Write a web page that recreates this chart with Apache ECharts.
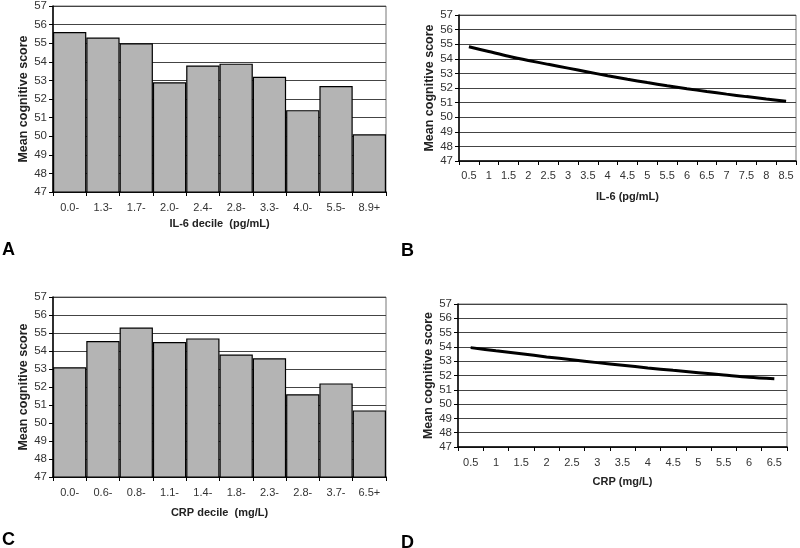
<!DOCTYPE html>
<html>
<head>
<meta charset="utf-8">
<script src="https://cdn.jsdelivr.net/npm/echarts@6/dist/echarts.min.js"></script>
<style>html,body{margin:0;padding:0;background:#fff;}#c{width:800px;height:548px;}</style>
</head>
<body>
<div id="c"></div>
<script>
var il6Deciles = ['0.0-','1.3-','1.7-','2.0-','2.4-','2.8-','3.3-','4.0-','5.5-','8.9+'];
var il6DecileScores = [55.6, 55.3, 55.0, 52.9, 53.8, 53.9, 53.2, 51.4, 52.7, 50.1];
var il6Levels = ['0.5','1','1.5','2','2.5','3','3.5','4','4.5','5','5.5','6','6.5','7','7.5','8','8.5'];
var il6Curve = [54.82, 54.5, 54.18, 53.89, 53.62, 53.36, 53.1, 52.84, 52.6, 52.37, 52.15, 51.95, 51.76, 51.58, 51.41, 51.25, 51.1];
var crpDeciles = ['0.0-','0.6-','0.8-','1.1-','1.4-','1.8-','2.3-','2.8-','3.7-','6.5+'];
var crpDecileScores = [53.1, 54.55, 55.3, 54.5, 54.7, 53.8, 53.6, 51.6, 52.2, 50.7];
var crpLevels = ['0.5','1','1.5','2','2.5','3','3.5','4','4.5','5','5.5','6','6.5'];
var crpCurve = [53.95, 53.73, 53.52, 53.3, 53.1, 52.9, 52.72, 52.53, 52.36, 52.2, 52.04, 51.88, 51.78];
var yMin = 47, yMax = 57;
var yName = 'Mean cognitive score';

var FONT = '"Liberation Sans", Arial, sans-serif';
var grids = [
  {left: 53, top: 6, width: 333, height: 186},
  {left: 459, top: 15, width: 337, height: 146},
  {left: 53, top: 297, width: 333, height: 180},
  {left: 458, top: 304, width: 329, height: 143}
];
grids.forEach(function(g){ g.show = true; g.borderColor = '#777'; g.borderWidth = 1; g.backgroundColor = 'transparent'; });

function xAxis(idx, cats, name, margin, gap) {
  return {
    type: 'category', gridIndex: idx, data: cats, boundaryGap: true,
    name: name, nameLocation: 'middle', nameGap: gap,
    nameTextStyle: {fontFamily: FONT, fontSize: 11, fontWeight: 'bold', color: '#222'},
    axisLine: {show: true, lineStyle: {color: '#000', width: 1.5}},
    axisTick: {show: true, length: 4, lineStyle: {color: '#000'}},
    axisLabel: {fontFamily: FONT, fontSize: 11, color: '#333', margin: margin, interval: 0},
    splitLine: {show: false}
  };
}
function yAxis(idx, gap) {
  return {
    type: 'value', gridIndex: idx, min: yMin, max: yMax, interval: 1,
    name: yName, nameLocation: 'middle', nameGap: gap, nameRotate: 90,
    nameTextStyle: {fontFamily: FONT, fontSize: 12.5, fontWeight: 'bold', color: '#222'},
    axisLine: {show: true, lineStyle: {color: '#000', width: 1.5}},
    axisTick: {show: true, length: 4, lineStyle: {color: '#000'}},
    axisLabel: {fontFamily: FONT, fontSize: 11.5, color: '#333', margin: 6},
    splitLine: {show: true, lineStyle: {color: '#444', width: 1.2}}
  };
}
function bars(idx, data) {
  return {
    type: 'bar', xAxisIndex: idx, yAxisIndex: idx, data: data,
    barCategoryGap: '0%', silent: true,
    itemStyle: {color: '#b4b4b4', borderColor: '#000', borderWidth: 1.2}
  };
}
function line(idx, data) {
  return {
    type: 'line', xAxisIndex: idx, yAxisIndex: idx, data: data,
    symbol: 'none', smooth: 0.3, silent: true,
    lineStyle: {color: '#000', width: 3}
  };
}
function letter(txt, x, y) {
  return {type: 'text', left: x, top: y, style: {text: txt, fontFamily: FONT, fontSize: 18, fontWeight: 'bold', fill: '#000'}};
}

var chart = echarts.init(document.getElementById('c'), null, {renderer: 'canvas'});
chart.setOption({
  animation: false,
  backgroundColor: '#fff',
  grid: grids,
  xAxis: [
    xAxis(0, il6Deciles, 'IL-6 decile  (pg/mL)', 10, 26),
    xAxis(1, il6Levels, 'IL-6 (pg/mL)', 9, 30),
    xAxis(2, crpDeciles, 'CRP decile  (mg/L)', 10, 30),
    xAxis(3, crpLevels, 'CRP (mg/L)', 10, 29)
  ],
  yAxis: [yAxis(0, 22), yAxis(1, 23), yAxis(2, 23), yAxis(3, 22)],
  series: [
    bars(0, il6DecileScores),
    line(1, il6Curve),
    bars(2, crpDecileScores),
    line(3, crpCurve)
  ],
  graphic: [
    letter('A', 2, 241),
    letter('B', 401, 242),
    letter('C', 2, 531),
    letter('D', 401, 534)
  ]
});
</script>
</body>
</html>
